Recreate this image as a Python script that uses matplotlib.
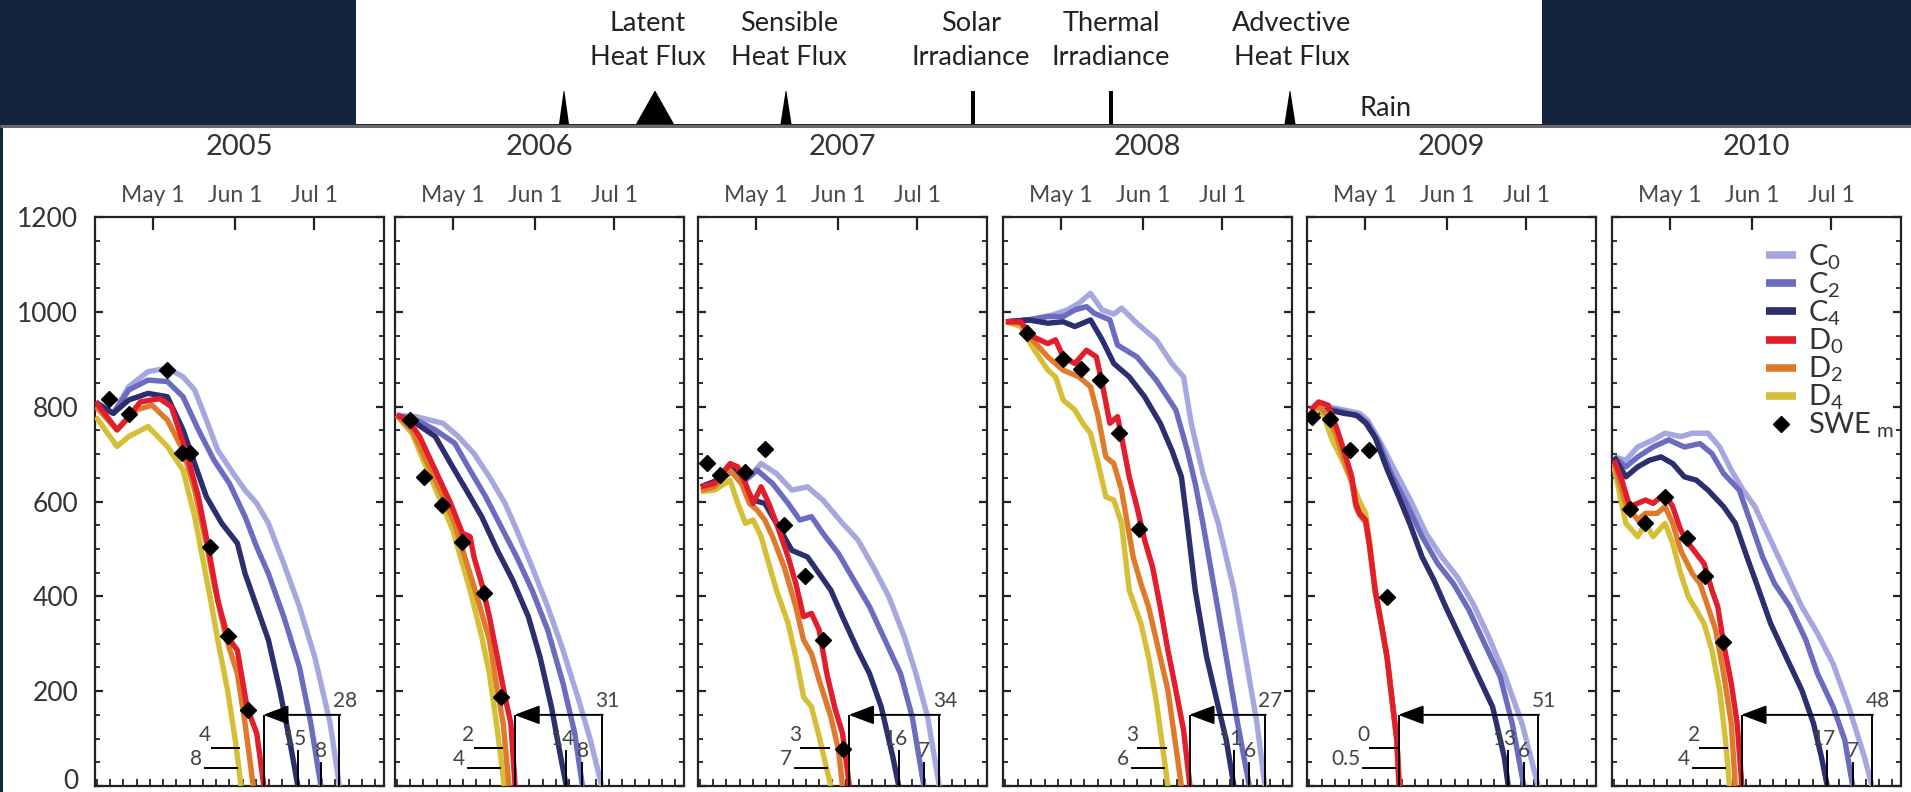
import matplotlib
matplotlib.use("Agg")
import matplotlib.pyplot as plt
import matplotlib.transforms as mtrans
from matplotlib.patches import Polygon, Rectangle
from matplotlib.lines import Line2D

FONT = ["Lato", "DejaVu Sans"]
plt.rcParams["font.family"] = FONT
plt.rcParams["mathtext.fontset"] = "custom"
plt.rcParams["mathtext.rm"] = "Lato"
plt.rcParams["mathtext.it"] = "Lato:italic"
plt.rcParams["mathtext.bf"] = "Lato:bold"

# ---------------- data (day of year, SWE mm) ----------------
YEARS = [2005, 2006, 2007, 2008, 2009, 2010]
MONTH_DAYS = [121, 152, 182]
MONTH_LABELS = ["May 1", "Jun 1", "Jul 1"]
Y_TICKS = [0, 200, 400, 600, 800, 1000, 1200]

C0 = {
    2005: [(99.6,810),(106.2,786),(112.0,842),(119.3,874),(126.6,881),(132.5,863),(136.9,835),(141.3,772),(145.6,708),(151.5,659),(155.9,624),(160.3,596),(164.7,554),(170.5,469),(176.4,378),(182.2,272),(188.0,132),(191.5,0)],
    2006: [(99.9,782),(107.2,779),(117.4,765),(123.2,737),(129.1,701),(134.9,652),(140.8,596),(145.2,540),(151.0,462),(156.9,378),(162.7,286),(168.6,181),(173.0,97),(177.3,0)],
    2007: [(100.4,631),(107.0,645),(112.8,666),(118.7,652),(123.1,680),(128.9,659),(134.7,624),(140.6,631),(146.4,603),(153.8,554),(159.6,519),(165.4,462),(171.3,399),(177.1,315),(181.5,237),(185.9,146),(190.3,0)],
    2008: [(100.4,979),(108.9,983),(117.7,993),(123.5,1004),(127.9,1018),(132.3,1039),(136.7,1004),(141.1,995),(144.0,1008),(149.8,976),(157.1,941),(163.0,891),(167.4,863),(170.3,765),(174.7,659),(180.5,554),(186.4,413),(190.8,272),(195.1,132),(198.1,0)],
    2009: [(100.7,782),(107.3,800),(113.2,793),(119.1,786),(122.1,772),(126.5,730),(132.4,666),(138.3,603),(144.2,533),(150.1,483),(156.0,441),(161.9,385),(167.8,315),(173.7,237),(180.5,130),(186.5,0)],
    2010: [(100.1,694),(104.5,687),(109.0,715),(114.8,730),(119.3,744),(125.2,737),(129.6,744),(135.5,744),(139.9,715),(144.3,666),(148.8,624),(153.2,589),(159.1,519),(165.0,448),(170.9,378),(176.8,322),(182.7,258),(188.6,167),(194.5,61),(197.4,0)],
}
C2 = {
    2005: [(99.6,810),(106.2,786),(112.0,835),(119.3,856),(126.6,853),(132.5,821),(138.3,751),(144.2,687),(150.0,638),(155.9,568),(160.3,504),(164.7,448),(170.5,357),(176.4,251),(180.7,132),(184.5,0)],
    2006: [(99.9,782),(107.2,772),(114.5,751),(121.8,723),(127.6,666),(133.5,610),(139.3,547),(145.2,483),(151.0,413),(156.9,329),(162.7,216),(167.1,111),(170.0,0)],
    2007: [(100.4,631),(107.0,645),(112.8,666),(117.2,645),(121.6,666),(127.4,638),(133.3,596),(137.7,561),(142.1,568),(146.4,533),(152.3,490),(158.1,434),(164.0,378),(169.8,308),(175.7,237),(180.1,146),(184.5,0)],
    2008: [(100.4,979),(108.9,983),(116.2,990),(122.0,990),(126.4,1004),(130.8,1011),(133.7,997),(139.6,983),(142.5,930),(149.8,905),(157.1,856),(164.5,793),(168.8,708),(171.8,638),(174.7,554),(179.1,413),(183.5,272),(187.8,132),(192.2,0)],
    2009: [(100.7,782),(107.3,796),(113.2,789),(119.1,779),(122.1,765),(126.5,723),(131.0,659),(136.8,596),(142.7,526),(148.6,469),(154.5,427),(160.4,371),(166.3,300),(172.2,230),(176.7,132),(181.1,0)],
    2010: [(100.1,694),(104.5,673),(109.0,694),(114.8,715),(120.7,730),(126.6,715),(132.5,722),(137.0,701),(141.4,659),(147.3,624),(151.7,554),(156.1,483),(160.6,427),(166.5,378),(172.4,308),(176.8,237),(182.7,167),(187.1,97),(190.1,0)],
}
C4 = {
    2005: [(99.6,807),(106.2,786),(112.0,814),(119.3,828),(126.6,821),(132.5,751),(136.9,680),(141.3,610),(147.1,554),(153.0,512),(155.9,448),(160.3,378),(164.7,308),(169.0,202),(172.7,97),(175.8,0)],
    2006: [(99.9,782),(107.2,765),(114.5,737),(120.3,680),(126.2,624),(132.0,568),(137.9,497),(143.7,434),(149.6,357),(154.0,272),(158.3,167),(161.3,76),(163.9,0)],
    2007: [(100.4,631),(105.5,642),(111.4,677),(115.7,645),(120.1,603),(124.5,596),(128.9,554),(134.7,497),(140.6,483),(145.0,448),(149.4,413),(153.8,357),(159.6,286),(164.0,237),(168.4,167),(172.8,61),(175.0,0)],
    2008: [(100.4,979),(108.9,983),(116.2,976),(122.0,979),(126.4,969),(132.3,983),(136.7,941),(141.1,891),(146.9,863),(152.7,821),(158.6,765),(163.0,708),(166.6,652),(168.8,554),(171.8,413),(176.1,272),(180.5,167),(183.5,97),(186.4,0)],
    2009: [(100.7,782),(107.3,793),(113.2,786),(118.0,782),(121.5,765),(125.0,735),(129.5,668),(133.9,610),(138.3,550),(142.7,483),(147.2,434),(151.6,378),(157.5,308),(163.4,237),(169.3,167),(173.7,61),(175.2,0)],
    2010: [(100.1,694),(104.5,652),(109.0,673),(113.4,687),(117.8,694),(122.2,680),(126.6,652),(131.1,645),(135.5,624),(141.4,589),(145.8,554),(150.2,483),(154.7,413),(159.1,343),(165.0,272),(170.9,202),(175.3,132),(178.3,61),(180.5,0)],
}
D0 = {
    2005: [(99.6,810),(107.6,751),(112.0,779),(116.4,810),(123.7,817),(128.1,800),(133.9,701),(138.3,610),(142.0,504),(145.6,392),(149.3,315),(153.0,286),(156.6,167),(160.3,111),(163.0,0)],
    2006: [(99.9,782),(104.2,772),(108.6,737),(114.5,666),(120.3,596),(124.7,533),(127.6,526),(129.1,483),(132.0,427),(134.9,357),(137.9,272),(140.8,188),(143.0,132),(144.6,0)],
    2007: [(100.4,631),(105.5,638),(111.4,680),(114.3,673),(117.2,638),(120.1,596),(123.1,631),(126.0,596),(128.9,554),(133.3,483),(136.2,427),(139.1,357),(142.1,364),(145.0,329),(147.9,237),(150.8,167),(153.8,111),(156.4,0)],
    2008: [(100.4,979),(106.0,979),(110.4,948),(116.2,933),(119.1,941),(122.0,905),(126.4,891),(130.8,919),(134.5,905),(136.7,849),(139.6,765),(142.5,779),(144.0,737),(146.9,652),(149.8,589),(152.7,519),(155.7,462),(158.6,378),(161.5,286),(164.5,202),(167.4,118),(169.8,0)],
    2009: [(100.7,793),(103.7,810),(107.3,803),(110.3,758),(113.2,708),(116.2,652),(117.7,596),(119.1,575),(121.4,561),(122.8,512),(125.0,413),(127.3,343),(129.5,272),(131.7,167),(133.2,97),(134.0,0)],
    2010: [(100.1,687),(103.0,645),(106.0,589),(109.0,596),(111.9,603),(114.8,596),(119.3,617),(122.2,589),(125.2,540),(128.1,512),(131.1,490),(134.0,469),(137.0,413),(139.2,378),(141.4,300),(144.3,216),(146.5,132),(148.3,0)],
}
D2 = {
    2005: [(99.6,800),(107.6,751),(114.9,793),(120.8,803),(126.6,772),(132.5,708),(136.9,624),(141.3,511),(144.2,427),(148.6,315),(153.0,237),(155.9,132),(159.0,0)],
    2006: [(99.9,782),(105.7,751),(111.6,680),(117.4,610),(121.8,554),(124.0,512),(127.6,448),(130.6,392),(134.9,308),(137.9,202),(140.1,132),(142.3,0)],
    2007: [(100.4,624),(105.5,631),(111.4,666),(115.7,638),(118.7,596),(121.6,582),(124.5,561),(127.4,526),(131.8,462),(136.2,378),(139.1,308),(142.1,279),(145.0,223),(149.4,146),(152.3,76),(153.8,0)],
    2008: [(100.4,979),(106.0,976),(110.4,941),(116.2,905),(122.0,877),(127.9,863),(132.3,842),(135.2,779),(138.1,694),(141.1,680),(144.0,624),(148.4,483),(151.3,427),(154.2,378),(157.1,308),(161.5,202),(166.6,0)],
    2009: [(100.7,786),(103.7,803),(107.3,780),(110.3,740),(113.2,690),(116.2,640),(117.7,590),(119.1,572),(121.4,556),(122.8,508),(125.0,410),(127.3,340),(129.5,270),(131.7,165),(133.2,95),(134.0,0)],
    2010: [(100.1,680),(104.5,596),(109.0,561),(111.9,575),(116.3,575),(119.3,589),(122.2,554),(125.2,497),(129.6,448),(132.5,427),(135.5,378),(138.4,329),(141.4,237),(144.3,132),(145.8,0)],
}
D4 = {
    2005: [(99.6,779),(107.6,716),(112.0,737),(119.3,758),(126.6,716),(132.5,666),(136.9,568),(139.8,483),(142.7,399),(145.6,308),(149.3,202),(152.2,97),(154.4,0)],
    2006: [(99.9,782),(105.7,744),(111.6,666),(117.4,589),(121.1,540),(124.0,483),(127.6,413),(132.0,315),(134.9,237),(137.9,118),(140.5,0)],
    2007: [(100.4,621),(105.5,624),(111.4,645),(114.3,596),(117.2,554),(120.1,561),(123.1,526),(126.0,469),(128.9,413),(133.3,343),(136.2,272),(139.1,188),(142.1,167),(145.0,104),(149.4,0)],
    2008: [(100.4,979),(106.0,969),(110.4,926),(116.2,877),(119.1,863),(122.0,814),(126.4,793),(129.4,765),(132.3,744),(135.2,680),(138.1,610),(141.1,603),(144.0,554),(146.9,413),(151.3,343),(154.2,272),(157.1,180),(161.5,0)],
    2009: [(100.7,779),(104.4,800),(108.8,730),(113.2,680),(117.7,620),(119.1,600),(121.4,575),(122.8,520),(125.0,415),(127.3,345),(129.5,272),(131.7,167),(133.2,97),(134.2,0)],
    2010: [(100.1,673),(104.5,554),(109.0,526),(111.9,554),(114.8,526),(119.3,554),(122.2,512),(125.2,448),(128.1,399),(131.1,371),(134.0,343),(137.0,286),(139.9,202),(142.1,97),(143.6,0)],
}
SWE_M = {
    2005: [(104.7,817),(112.0,784),(126.6,877),(132.2,703),(135.1,703),(142.7,504),(149.6,317),(157.0,161)],
    2006: [(105.0,772),(110.1,651),(117.1,592),(124.4,515),(132.7,407),(139.3,187)],
    2007: [(102.6,682),(107.7,656),(117.2,663),(124.5,711),(131.8,550),(139.6,443),(146.4,308),(153.8,79)],
    2008: [(108.2,955),(122.0,900),(128.6,879),(135.9,856),(143.2,744),(150.6,543)],
    2009: [(101.2,779),(108.1,775),(115.5,708),(122.8,708),(129.5,398)],
    2010: [(106.0,585),(111.9,554),(119.3,610),(127.4,522),(134.3,443),(141.1,303)],
}
# melt-out lag annotations (days)
LAG_C0 = ["28", "31", "34", "27", "51", "48"]
LAG_C4 = ["15", "14", "16", "11", "13", "17"]
LAG_C2 = ["8", "8", "7", "6", "6", "7"]
LAG_D2 = ["4", "2", "3", "3", "0", "2"]
LAG_D4 = ["8", "4", "7", "6", "0.5", "4"]

HEADER_LABELS = [("Latent", "Heat Flux"), ("Sensible", "Heat Flux"), ("Solar", "Irradiance"),
                 ("Thermal", "Irradiance"), ("Advective", "Heat Flux"), ("Rain", "")]
HEADER_MARK_W = [10, 38, 11, 4, 4, 11]

# ---------------- styling / layout ----------------
W, H = 1911, 792
NAVY = "#13243f"
COL = {"C0": "#a7a7df", "C2": "#6b6bc0", "C4": "#2c2e6e",
       "D0": "#e31e2c", "D2": "#e07a2b", "D4": "#d5bf36"}
LABELS = {"C0": "C$_0$", "C2": "C$_2$", "C4": "C$_4$", "D0": "D$_0$", "D2": "D$_2$", "D4": "D$_4$"}
SERIES = [("C0", C0), ("C2", C2), ("C4", C4), ("D4", D4), ("D2", D2), ("D0", D0)]
PANEL_LEFT = [95, 395, 698, 1003, 1307, 1612]
PANEL_W = 289
PANEL_TOP, PANEL_BOT = 217, 786
HDR_X = [648, 789, 971, 1111, 1292, 1386]
MARK_X = [564, 655, 786, 973, 1111, 1290]
TXT = "#333333"
ANN = "#444444"

fig = plt.figure(figsize=(W / 100, H / 100), dpi=100, facecolor="white")

# background / header in pixel coordinates
bg = fig.add_axes([0, 0, 1, 1], zorder=-10)
bg.set_xlim(0, W)
bg.set_ylim(H, 0)
bg.axis("off")
bg.add_patch(Rectangle((0, 0), W, 125, color=NAVY, lw=0))
bg.add_patch(Rectangle((356, 0), 1186, 124, color="white", lw=0))
bg.add_patch(Rectangle((0, 125), 3, H - 125, color=NAVY, lw=0))
bg.plot([0, W], [125.5, 125.5], color="#6a6a6a", lw=2.2, solid_capstyle="butt")
for (l1, l2), x in zip(HEADER_LABELS, HDR_X):
    if l2:
        bg.text(x, 31, l1, ha="center", va="baseline", fontsize=19.5, color="#222222")
        bg.text(x, 65, l2, ha="center", va="baseline", fontsize=19.5, color="#222222")
    else:
        bg.text(x, 116, l1, ha="center", va="baseline", fontsize=19.5, color="#222222")
for x, w in zip(MARK_X, HEADER_MARK_W):
    top_half = w / 2 if w <= 4 else 0.4
    bg.add_patch(Polygon([(x - w / 2, 124), (x + w / 2, 124), (x + top_half, 91), (x - top_half, 91)],
                         closed=True, color="black", lw=0))

for i, yr in enumerate(YEARS):
    L = PANEL_LEFT[i]
    ax = fig.add_axes([L / W, (H - PANEL_BOT) / H, PANEL_W / W, (PANEL_BOT - PANEL_TOP) / H])
    ax.set_xlim(99.3, 208.3)
    ax.set_ylim(0, 1200)
    for key, data in SERIES:
        pts = data[yr]
        ax.plot([p[0] for p in pts], [p[1] for p in pts], color=COL[key], lw=3.9,
                solid_joinstyle="round", solid_capstyle="butt", zorder=3)
    sw = SWE_M[yr]
    ax.plot([p[0] for p in sw], [p[1] for p in sw], ls="none", marker="D", ms=8,
            color="black", zorder=5)

    # annotations
    d0_end = D0[yr][-1][0]
    c0_end = C0[yr][-1][0]
    c2_end = C2[yr][-1][0]
    c4_end = C4[yr][-1][0]
    d4_end = D4[yr][-1][0]
    ak = dict(color="black", lw=1.4, zorder=6, solid_capstyle="butt")
    ax.plot([d0_end, d0_end], [0, 150], **ak)
    ax.plot([c0_end, c0_end], [0, 150], **ak)
    ax.annotate("", xy=(d0_end - 0.3, 150), xytext=(c0_end + 0.3, 150),
                arrowprops=dict(arrowstyle="-|>,head_length=1.2,head_width=0.45",
                                color="black", lw=1.4, mutation_scale=13, shrinkA=0, shrinkB=0),
                zorder=6)
    ax.text(c0_end + 2.1, 180, LAG_C0[i], ha="center", va="center", fontsize=15, color=ANN, zorder=7)
    ax.plot([c4_end, c4_end], [0, 75], **ak)
    ax.plot([c2_end, c2_end], [0, 50], **ak)
    ax.text(c4_end - 1.4, 100, LAG_C4[i], ha="center", va="center", fontsize=15, color=ANN, zorder=7)
    ax.text(c2_end + 0.2, 73, LAG_C2[i], ha="center", va="center", fontsize=15, color=ANN, zorder=7)
    up0, up1 = d4_end - 11.5, d4_end - 0.5
    lo0, lo1 = d4_end - 14, d4_end - 1.2
    ax.plot([up0, up1], [80, 80], **ak)
    ax.plot([lo0, lo1], [37, 37], **ak)
    ax.text(up0 + 0.3, 107, LAG_D2[i], ha="right", va="center", fontsize=15, color=ANN, zorder=7)
    ax.text(lo0 - 0.8, 57, LAG_D4[i], ha="right", va="center", fontsize=15, color=ANN, zorder=7)

    # axes styling
    for s in ax.spines.values():
        s.set_linewidth(1.6)
        s.set_color("#222222")
    ax.set_xticks(MONTH_DAYS, MONTH_LABELS)
    ax.set_xticks(range(100, 209, 5), minor=True)
    ax.tick_params(axis="x", which="major", top=True, bottom=False, labeltop=True, labelbottom=False,
                   direction="in", length=9, width=1.6, pad=8, labelsize=16.5, labelcolor="#4a4a4a",
                   color="#222222")
    ax.tick_params(axis="x", which="minor", top=False, bottom=True, direction="in", length=5,
                   width=1.3, color="#222222")
    ax.set_yticks(Y_TICKS)
    ax.set_yticks(range(0, 1201, 50), minor=True)
    ax.tick_params(axis="y", which="major", left=True, right=True, direction="in", length=6,
                   width=1.6, labelleft=(i == 0), pad=12, labelsize=19, labelcolor=TXT, color="#222222")
    ax.tick_params(axis="y", which="minor", left=True, right=True, direction="in", length=3.5,
                   width=1.3, color="#222222")
    if i == 0:
        lab0 = ax.get_yticklabels()[0]
        lab0.set_transform(lab0.get_transform() + mtrans.ScaledTranslation(0, 7 / 100, fig.dpi_scale_trans))
    ax.text(0.5, 1 + (PANEL_TOP - 155) / (PANEL_BOT - PANEL_TOP), str(yr), transform=ax.transAxes,
            ha="center", va="baseline", fontsize=21, color=TXT)

    if i == len(YEARS) - 1:
        handles = [Line2D([0], [0], color=COL[k], lw=5.5, solid_capstyle="butt")
                   for k in ["C0", "C2", "C4", "D0", "D2", "D4"]]
        handles.append(Line2D([0], [0], ls="none", marker="D", ms=8, color="black"))
        labels = [LABELS[k] for k in ["C0", "C2", "C4", "D0", "D2", "D4"]] + [r"SWE$_{\ \mathregular{m}}$"]
        ax.legend(handles, labels, loc="upper right", bbox_to_anchor=(0.975, 0.955), frameon=False,
                  fontsize=21, handlelength=1.05, handletextpad=0.4, labelspacing=-0.05,
                  borderpad=0, borderaxespad=0, labelcolor=TXT)

fig.savefig("out.png", dpi=100, facecolor="white")
